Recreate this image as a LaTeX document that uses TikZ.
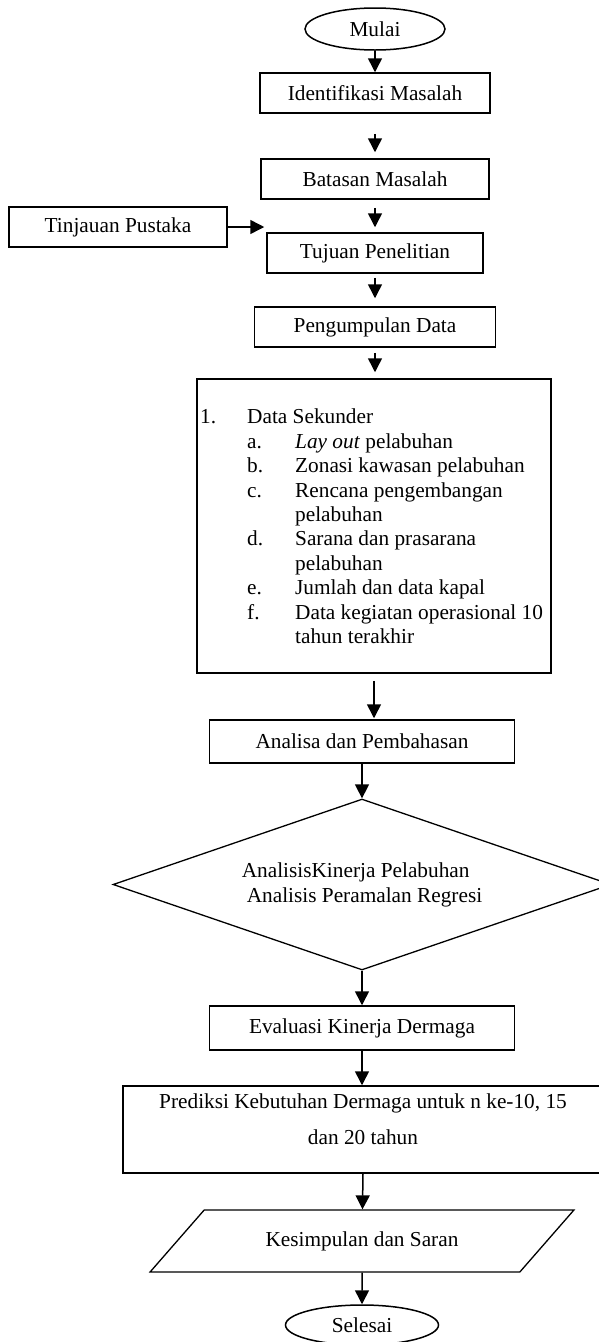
\documentclass[tikz,border=0pt]{standalone}
\usepackage{fontspec}
\setmainfont{Liberation Serif}
\usetikzlibrary{shapes.geometric,arrows.meta}
\newcommand{\butir}[2]{\hspace*{47pt}\makebox[48pt][l]{#1}#2}
\newcommand{\lanjut}[1]{\hspace*{95pt}#1}

\begin{document}
\begin{tikzpicture}%
[x=1pt, y=-1pt,%
proses/.style={draw, line width=1.5pt, rectangle, inner sep=0pt, font=\fontsize{21.3}{24.4}\selectfont},%
terminal/.style={draw, line width=1.5pt, ellipse, inner sep=0pt, font=\fontsize{21.3}{24.4}\selectfont},%
keputusan/.style={draw, line width=1.3pt, diamond, shape aspect=2.9, inner sep=0pt, align=left, font=\fontsize{21.3}{25}\selectfont},%
keluaran/.style={draw, line width=1.3pt, trapezium, trapezium left angle=30.3, trapezium right angle=149.7, trapezium stretches=true, inner sep=0pt, font=\fontsize{21.3}{24.4}\selectfont},%
panah/.style={line width=1.5pt, -{Triangle[length=14pt, width=14pt]}}]
\useasboundingbox (0,0) rectangle (599,1342);
\node[terminal, minimum width=140pt, minimum height=42pt] (mulai) at (375,29) {Mulai};
\node[proses, minimum width=230pt, minimum height=40pt] (identifikasi) at (375,93) {Identifikasi Masalah};
\node[proses, minimum width=228pt, minimum height=40pt] (batasan) at (375,179) {Batasan Masalah};
\node[proses, minimum width=218pt, minimum height=40pt] (tinjauan) at (118,227) {Tinjauan Pustaka};
\node[proses, minimum width=216pt, minimum height=40pt] (tujuan) at (375,253) {Tujuan Penelitian};
\node[proses, minimum width=241pt, minimum height=40pt] (pengumpulan) at (375,327) {Pengumpulan Data};
\node[proses, minimum width=354pt, minimum height=294pt] (data) at (374,526) {};
\node[anchor=north west, inner sep=0pt, align=left, font=\fontsize{21.3}{24.4}\selectfont] (sekunder) at (200,409) {%
\makebox[47pt][l]{1.}Data Sekunder\\
\butir{a.}{\textit{Lay out} pelabuhan}\\
\butir{b.}{Zonasi kawasan pelabuhan}\\
\butir{c.}{Rencana pengembangan}\\
\lanjut{pelabuhan}\\
\butir{d.}{Sarana dan prasarana}\\
\lanjut{pelabuhan}\\
\butir{e.}{Jumlah dan data kapal}\\
\butir{f.}{Data kegiatan operasional 10}\\
\lanjut{tahun terakhir}};
\node[proses, minimum width=305pt, minimum height=43pt] (analisa) at (362,741.5) {Analisa dan Pembahasan};
\node[keputusan, minimum width=498pt, minimum height=171pt] (analisis) at (362,884.5) {AnalisisKinerja Pelabuhan\\\hspace*{5pt}Analisis Peramalan Regresi};
\node[proses, minimum width=305pt, minimum height=44pt] (evaluasi) at (362,1028) {Evaluasi Kinerja Dermaga};
\node[proses, minimum width=480pt, minimum height=87pt] (prediksi) at (363,1129.5) {};
\node[anchor=north, inner sep=0pt, align=center, font=\fontsize{21.3}{36}\selectfont] (prediksiteks) at (363,1094) {Prediksi Kebutuhan Dermaga untuk n ke-10, 15\\dan 20 tahun};
\node[keluaran, minimum width=424pt, minimum height=62pt] (kesimpulan) at (362,1241) {Kesimpulan dan Saran};
\node[terminal, minimum width=153pt, minimum height=40pt] (selesai) at (362,1325) {Selesai};
% alur utama
\draw[panah] (mulai) -- (identifikasi);
\draw[panah, shorten <=20pt, shorten >=6pt] (identifikasi) -- (batasan);
\draw[panah, shorten <=8pt, shorten >=5pt] (batasan) -- (tujuan);
\draw[panah, shorten >=2pt] (tinjauan.east) -- (tinjauan.east -| tujuan.west);
\draw[panah, shorten <=4pt, shorten >=8pt] (tujuan) -- (pengumpulan);
\draw[panah, shorten <=5pt, shorten >=6pt] (pengumpulan) -- (pengumpulan.south |- data.north);
\draw[panah, shorten <=7pt, shorten >=1pt] (data.south) -- (data.south |- analisa.north);
\draw[panah] (analisa) -- (analisis);
\draw[panah] (analisis) -- (evaluasi);
\draw[panah] (evaluasi) -- (evaluasi.south |- prediksi.north);
\draw[panah] (prediksi.south) -- (kesimpulan);
\draw[panah] (kesimpulan) -- (selesai);
\end{tikzpicture}
\end{document}
